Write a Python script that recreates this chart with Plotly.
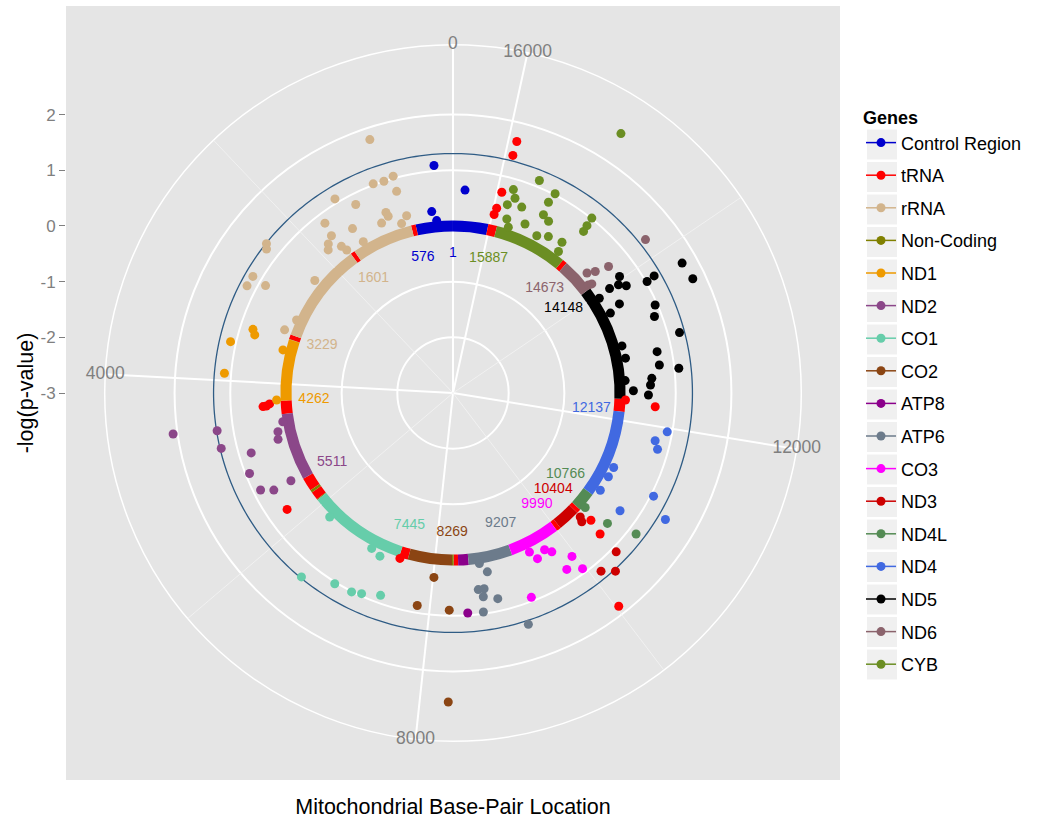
import plotly.graph_objects as go

GENOME_LEN = 16569
FONT = "Liberation Sans, Arial, sans-serif"
W, H = 1044, 820

# ---------------- data ----------------
genes = ["Control Region", "tRNA", "rRNA", "Non-Coding", "ND1", "ND2", "CO1", "CO2",
         "ATP8", "ATP6", "CO3", "ND3", "ND4L", "ND4", "ND5", "ND6", "CYB"]
gene_colors = ["#0000CD", "#FF0000", "#D2B48C", "#808000", "#EE9A00", "#8B4789", "#66CDAA",
               "#8B4513", "#8B008B", "#6C7B8B", "#FF00FF", "#CD0000", "#548B54", "#4169E1",
               "#000000", "#8B636C", "#6B8E23"]

# gene map (ring): start, end, gene
seg_start = [16024, 1, 577, 648, 1602, 1671, 3230, 3305, 3307, 4263, 4470, 5512, 5721, 5761,
             5892, 5904, 7446, 7586, 8270, 8295, 8365, 8527, 9208, 9991, 10059, 10405, 10470,
             10767, 12138, 12337, 14149, 14674, 14747, 15888]
seg_end = [16569, 576, 647, 1601, 1670, 3229, 3304, 3306, 4262, 4469, 5511, 5720, 5760, 5891,
           5903, 7445, 7585, 8269, 8294, 8364, 8526, 9207, 9990, 10058, 10404, 10469, 10766,
           12137, 12336, 14148, 14673, 14746, 15887, 16023]
seg_gene = ["Control Region", "Control Region", "tRNA", "rRNA", "tRNA", "rRNA", "tRNA",
            "Non-Coding", "ND1", "tRNA", "ND2", "tRNA", "Non-Coding", "tRNA", "Non-Coding",
            "CO1", "tRNA", "CO2", "Non-Coding", "tRNA", "ATP8", "ATP6", "CO3", "tRNA", "ND3",
            "tRNA", "ND4L", "ND4", "tRNA", "ND5", "ND6", "tRNA", "CYB", "tRNA"]

# positions (bp) and -log(p) of the points away from the baseline
ctrl_bp = [220, 16413, 308, 249]
ctrl_val = [1.10, 0.65, 0.28, 0.11]
trna_bp = [15914, 15918, 15940, 15957, 15972, 4326, 4331, 4299, 5756, 7466, 12320, 12248,
           10462, 10411, 10027]
trna_val = [1.66, 1.40, 0.71, 0.41, 0.29, 0.36, 0.42, 0.30, 0.64, 0.12, 0.10, 0.64,
            0.37, 0.66, 1.85]
rrna_bp = [836, 710, 961, 832, 719, 1441, 1256, 938, 927, 675, 1049, 777, 1447, 1735, 1411,
           1715, 1704, 1837, 1891, 2363, 2409, 2751, 2877, 2770, 3196, 2341, 2990, 1685]
rrna_val = [1.79, 1.04, 1.02, 1.00, 0.76, 1.08, 0.81, 0.46, 0.38, 0.29, 0.31, 0.18, 0.46, 0.57,
            0.16, 0.31, 0.82, 0.49, 0.41, 1.29, 1.23, 1.16, 1.17, 0.88, 0.23, 0.20, 0.10, 0.20]
noncoding_bp = []
noncoding_val = []
nd1_bp = [3330, 3391, 3544, 3915, 3488, 4247]
nd1_val = [0.77, 0.71, 1.10, 1.12, 0.15, 0.17]
nd2_bp = [4526, 4561, 4761, 4903, 5136, 5374, 5452, 5451, 4717, 4825, 4584]
nd2_val = [2.08, 1.29, 1.28, 0.78, 0.93, 0.87, 0.66, 0.31, 0.22, 0.25, 0.10]
co1_bp = [6467, 6821, 7041, 7157, 7378, 6221, 7174, 7013]
co1_val = [1.28, 1.03, 1.01, 0.96, 0.86, 0.14, 0.21, 0.15]
co2_bp = [8013, 7845, 8239, 8244]
co2_val = [0.33, 0.87, 0.90, 2.55]
atp8_bp = [8461]
atp8_val = [0.96]
atp6_bp = [8785, 8622, 8700, 8674, 8850, 8648, 9115, 8689]
atp6_val = [0.27, 0.56, 0.56, 0.70, 0.78, 0.97, 1.37, 0.10]
co3_bp = [9466, 9528, 9679, 9752, 9944, 9795, 9960, 9250]
co3_val = [0.17, 0.34, 0.26, 0.36, 0.63, 0.77, 0.92, 0.93]
nd3_bp = [10390, 10356, 10391, 10113, 10234]
nd3_val = [0.19, 0.27, 1.09, 1.16, 1.33]
nd4l_bp = [10545, 10578, 10696]
nd4l_val = [0.14, 0.63, 1.15]
nd4_bp = [11954, 11815, 11718, 11282, 11123, 10888, 11174, 10808, 11010]
nd4_val = [0.91, 0.73, 0.81, 0.18, 0.17, 0.17, 1.05, 0.67, 1.44]
nd5_bp = [13787, 13599, 13817, 13802, 14036, 13953, 13888, 13978, 13942, 13723, 13510, 13384,
          13666, 13114, 13143, 12952, 12954, 12783, 12715, 12621, 12534, 12460, 12400, 12617]
nd5_val = [1.73, 1.77, 1.18, 1.02, 0.65, 0.55, 0.66, 0.38, 0.13, 0.39, 0.96, 0.87,
           0.17, 1.21, 0.15, 0.16, 0.74, 0.74, 1.08, 0.58, 0.55, 0.24, 0.51, 0.10]
nd6_bp = [14201, 14227, 14291, 14352, 14203, 14183]
nd6_val = [1.42, 0.60, 0.36, 0.23, 0.11, 0.17]
cyb_bp = [15054, 15551, 15808, 15756, 15320, 15828, 15635, 15345, 15331, 15230, 15778, 15507,
          14800, 14789, 14777, 15278, 15125, 14918, 14880, 15720]
cyb_val = [2.55, 1.12, 0.81, 0.67, 1.02, 0.52, 0.56, 0.83, 0.59, 0.53, 0.27, 0.30,
           1.01, 0.85, 0.73, 0.20, 0.29, 0.34, 0.17, 0.14]

baseline_val = 0.0
threshold_val = 1.30            # -log10(0.05)
label_val = -0.5
label_bp = [576, 1, 15887, 14673, 14148, 12137, 10766, 10404, 9990, 9207, 8269, 7445,
            5511, 4262, 3229, 1601]
label_gene = ["Control Region", "Control Region", "CYB", "ND6", "ND5", "ND4", "ND4L", "ND3",
              "CO3", "ATP6", "CO2", "CO1", "ND2", "ND1", "rRNA", "rRNA"]
theta_major = [0, 4000, 8000, 12000, 16000]
theta_minor = [2000, 6000, 10000, 14000]
r_ticks = [-3, -2, -1, 0, 1, 2]
r_limits = [-3.0, 2.56]

points = {
    "Control Region": (ctrl_bp, ctrl_val), "tRNA": (trna_bp, trna_val),
    "rRNA": (rrna_bp, rrna_val), "Non-Coding": (noncoding_bp, noncoding_val),
    "ND1": (nd1_bp, nd1_val), "ND2": (nd2_bp, nd2_val), "CO1": (co1_bp, co1_val),
    "CO2": (co2_bp, co2_val), "ATP8": (atp8_bp, atp8_val), "ATP6": (atp6_bp, atp6_val),
    "CO3": (co3_bp, co3_val), "ND3": (nd3_bp, nd3_val), "ND4L": (nd4l_bp, nd4l_val),
    "ND4": (nd4_bp, nd4_val), "ND5": (nd5_bp, nd5_val), "ND6": (nd6_bp, nd6_val),
    "CYB": (cyb_bp, cyb_val),
}
color_of = dict(zip(genes, gene_colors))


def deg(bp):
    return bp * 360.0 / GENOME_LEN


# ---------------- geometry (ggplot coord_polar look) ----------------
PANEL = dict(x0=66, x1=840, y0=6, y1=780)          # pixel box of grey panel
cx = (PANEL["x0"] + PANEL["x1"]) / 2
cy = (PANEL["y0"] + PANEL["y1"]) / 2
R_px = 0.45 * min(PANEL["x1"] - PANEL["x0"], PANEL["y1"] - PANEL["y0"])
r_outer = r_limits[0] + (r_limits[1] - r_limits[0]) * 0.45 / 0.4
ppu = R_px / (r_outer - r_limits[0])
ring_half = 0.1

fig = go.Figure()

# dummy cartesian trace so the left axis / grey panel exist
fig.add_trace(go.Scatter(x=[None], y=[None], showlegend=False, hoverinfo="skip"))

# minor spokes (skip across the baseline ring)
for t in theta_minor:
    fig.add_trace(go.Scatterpolar(
        r=[r_limits[0], baseline_val - ring_half, None, baseline_val + ring_half, r_outer],
        theta=[deg(t)] * 5, mode="lines", line=dict(color="#F4F4F4", width=0.8),
        showlegend=False, hoverinfo="skip", connectgaps=False))

# baseline ring: one arc per gene segment
for g in genes:
    th, wd = [], []
    for s, e, gg in zip(seg_start, seg_end, seg_gene):
        if gg == g:
            th.append(deg((s + e) / 2.0))
            wd.append(deg(e - s + 1))
    if th:
        fig.add_trace(go.Barpolar(
            r=[2 * ring_half] * len(th), base=[baseline_val - ring_half] * len(th),
            theta=th, width=wd, marker=dict(color=color_of[g], line=dict(width=0)),
            showlegend=False, hoverinfo="skip"))

# significance threshold circle
circ_t = [i for i in range(0, 361)]
fig.add_trace(go.Scatterpolar(
    r=[threshold_val] * len(circ_t), theta=circ_t, mode="lines",
    line=dict(color="#2F5C85", width=1.3), showlegend=False, hoverinfo="skip"))

# points per gene (lines+markers for ggplot-like legend key; gaps keep points isolated)
for g in genes:
    bps, vals = points[g]
    rr, tt = [], []
    for b, v in zip(bps, vals):
        rr += [v, None]
        tt += [deg(b), None]
    if not rr:
        rr, tt = [None], [None]
    fig.add_trace(go.Scatterpolar(
        r=rr, theta=tt, mode="lines+markers", name=g, legendgroup=g,
        marker=dict(color=color_of[g], size=9), line=dict(color=color_of[g], width=1.5),
        connectgaps=False, hoverinfo="skip"))

# gene boundary labels
fig.add_trace(go.Scatterpolar(
    r=[label_val] * len(label_bp), theta=[deg(b) for b in label_bp],
    text=[str(b) for b in label_bp], mode="text",
    textfont=dict(family=FONT, size=14, color=[color_of[g] for g in label_gene]),
    showlegend=False, hoverinfo="skip", cliponaxis=False))

# angular tick labels sitting on the outer circle
fig.add_trace(go.Scatterpolar(
    r=[r_outer] * len(theta_major), theta=[deg(t) for t in theta_major],
    text=[str(t) for t in theta_major], mode="text",
    textfont=dict(family=FONT, size=17.5, color="#7F7F7F"),
    showlegend=False, hoverinfo="skip", cliponaxis=False))

# ---------------- layout ----------------
panel_dom_x = [PANEL["x0"] / W, PANEL["x1"] / W]
panel_dom_y = [1 - PANEL["y1"] / H, 1 - PANEL["y0"] / H]
y_bottom = r_limits[0] - (PANEL["y1"] - cy) / ppu
y_top = r_limits[0] + (cy - PANEL["y0"]) / ppu

shapes = []
for i in range(len(genes)):
    yc = 144.5 + 32.5 * i
    shapes.append(dict(type="rect", xref="paper", yref="paper", layer="below",
                       x0=867 / W, x1=897 / W, y0=1 - (yc + 15) / H, y1=1 - (yc - 15) / H,
                       fillcolor="#F0F0F0", line=dict(width=0)))

fig.update_layout(
    width=W, height=H, margin=dict(l=0, r=0, t=0, b=0),
    paper_bgcolor="white", plot_bgcolor="#E5E5E5",
    font=dict(family=FONT, color="black"),
    xaxis=dict(domain=panel_dom_x, range=[0, 1], showgrid=False, zeroline=False,
               showticklabels=False, ticks="", showline=False, fixedrange=True,
               title=dict(text="Mitochondrial Base-Pair Location",
                          font=dict(size=21.5, color="black"), standoff=18)),
    yaxis=dict(domain=panel_dom_y, range=[y_bottom, y_top], showgrid=False, zeroline=False,
               tickvals=r_ticks, ticktext=[str(v) for v in r_ticks], ticks="outside",
               ticklen=6, tickwidth=1, tickcolor="#7F7F7F",
               tickfont=dict(size=17, color="#7F7F7F"), showline=False, fixedrange=True,
               title=dict(text="-log(p-value)", font=dict(size=21.5, color="black"),
                          standoff=0)),
    polar=dict(
        domain=dict(x=[(cx - R_px) / W, (cx + R_px) / W],
                    y=[1 - (cy + R_px) / H, 1 - (cy - R_px) / H]),
        bgcolor="#E5E5E5", barmode="overlay",
        radialaxis=dict(range=[r_limits[0], r_outer], tickvals=r_ticks,
                        showticklabels=False, ticks="", showline=False,
                        gridcolor="white", gridwidth=1.5, layer="below traces"),
        angularaxis=dict(rotation=90, direction="counterclockwise", thetaunit="degrees",
                         tickvals=[deg(t) for t in theta_major], showticklabels=False,
                         ticks="", showline=True, linecolor="white", linewidth=1.5,
                         gridcolor="white", gridwidth=1.5, layer="below traces"),
    ),
    legend=dict(x=861 / W, y=1 - 101 / H, xanchor="left", yanchor="top",
                bgcolor="rgba(0,0,0,0)", font=dict(size=18, color="black"),
                title=dict(text="<b>Genes</b>", font=dict(size=18)),
                traceorder="grouped", tracegroupgap=6.2, itemwidth=30),
    shapes=shapes,
)

fig.write_html("out.html", config={"displayModeBar": False},
               post_script="document.body.style.margin='0';document.body.style.padding='0';")
